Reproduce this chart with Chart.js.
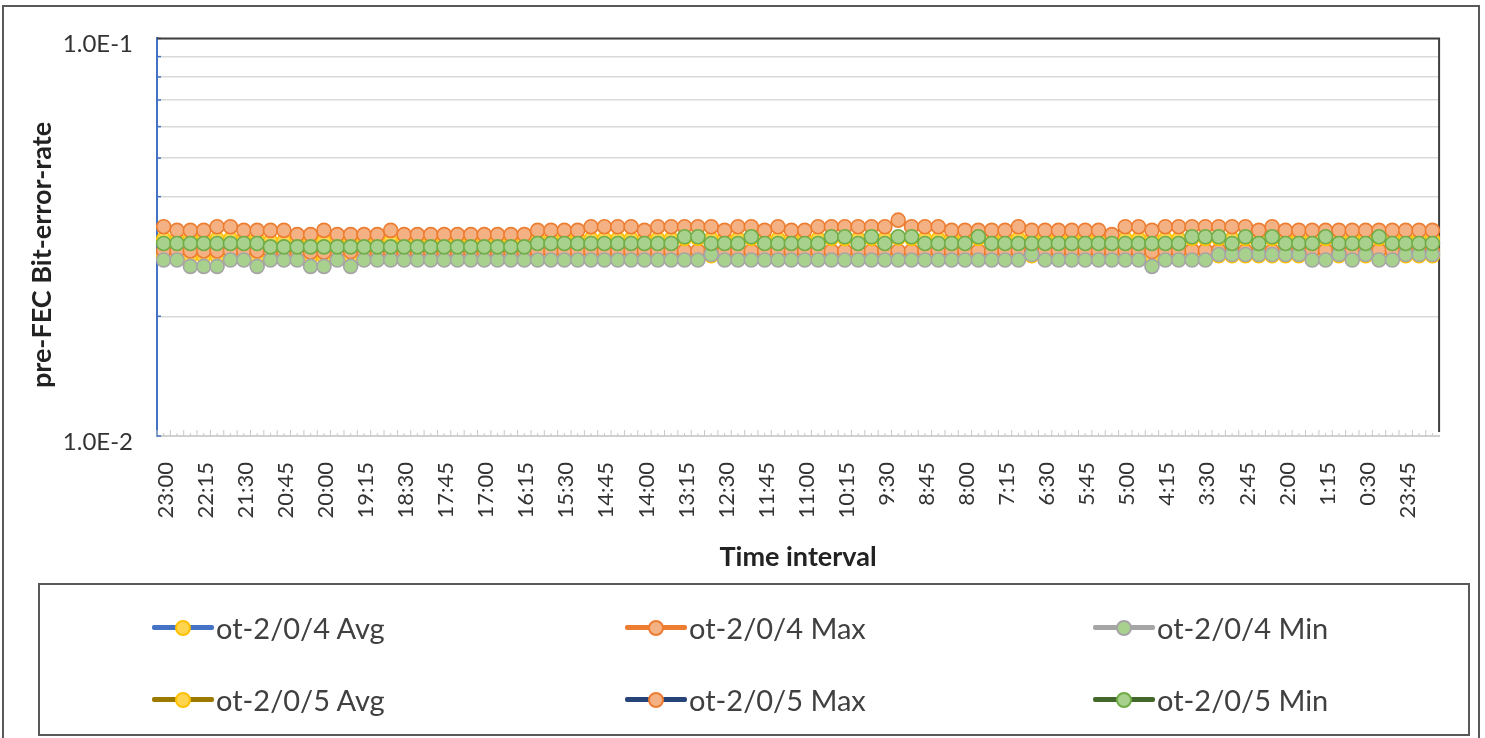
<!DOCTYPE html>
<html>
<head>
<meta charset="utf-8">
<script src="https://cdn.jsdelivr.net/npm/chart.js@4.4.0/dist/chart.umd.min.js"></script>
<style>
  html, body { margin: 0; padding: 0; background: #fff; }
  #wrap { position: relative; width: 1485px; height: 738px; overflow: hidden; font-family: Lato, "Liberation Sans", sans-serif; }
  #frame { position: absolute; left: 2px; top: 5px; width: 1478px; height: 780px; border: 2px solid #595959; box-sizing: border-box; }
  #chart { position: absolute; left: 0; top: 0; }
  #legend { position: absolute; left: 38px; top: 583px; width: 1432px; height: 153px; border: 2px solid #595959; box-sizing: border-box; }
  .item { position: absolute; height: 30px; font-size: 29px; line-height: 30px; color: #404040; white-space: nowrap; }
  .ln { position: absolute; left: 0; top: 12px; width: 62px; height: 5px; border-radius: 2px; }
  .mk { position: absolute; left: 23px; top: 7px; width: 16px; height: 16px; border-radius: 50%; border: 2px solid; box-sizing: border-box; }
  .tx { position: absolute; left: 64px; top: 0; }
</style>
</head>
<body>
<div id="wrap">
  <div id="frame"></div>
  <canvas id="chart" width="1485" height="738"></canvas>
  <div id="legend"></div>
</div>
<script>
// 15 minute intervals, newest first
var timeLabels = [
  "23:00","22:45","22:30","22:15","22:00","21:45","21:30","21:15","21:00","20:45","20:30","20:15",
  "20:00","19:45","19:30","19:15","19:00","18:45","18:30","18:15","18:00","17:45","17:30","17:15",
  "17:00","16:45","16:30","16:15","16:00","15:45","15:30","15:15","15:00","14:45","14:30","14:15",
  "14:00","13:45","13:30","13:15","13:00","12:45","12:30","12:15","12:00","11:45","11:30","11:15",
  "11:00","10:45","10:30","10:15","10:00","9:45","9:30","9:15","9:00","8:45","8:30","8:15",
  "8:00","7:45","7:30","7:15","7:00","6:45","6:30","6:15","6:00","5:45","5:30","5:15",
  "5:00","4:45","4:30","4:15","4:00","3:45","3:30","3:15","3:00","2:45","2:30","2:15",
  "2:00","1:45","1:30","1:15","1:00","0:45","0:30","0:15","0:00","23:45","23:30","23:15"
];

// value axis grid: one decade, minor lines at 2..9
var yTickValues = [0.01, 0.02, 0.03, 0.04, 0.05, 0.06, 0.07, 0.08, 0.09, 0.1];

var seriesNames = ["ot-2/0/4 Avg", "ot-2/0/4 Max", "ot-2/0/4 Min", "ot-2/0/5 Avg", "ot-2/0/5 Max", "ot-2/0/5 Min"];

var avg4 = [
  .0283,.0283,.0283,.0283,.0283,.0283,.0283,.0283,.0283,.0283,.0283,.0282,
  .0282,.0283,.0283,.0283,.0283,.0283,.0283,.0283,.0283,.0283,.0283,.0283,
  .0283,.0283,.0283,.0283,.0283,.0283,.0283,.0283,.0283,.0283,.0283,.0283,
  .0283,.0283,.0283,.0283,.0283,.0284,.0283,.0283,.0283,.0283,.0283,.0283,
  .0283,.0283,.0283,.0283,.0283,.0283,.0283,.0283,.0283,.0283,.0283,.0283,
  .0283,.0283,.0283,.0283,.0283,.0284,.0283,.0283,.0283,.0283,.0283,.0283,
  .0283,.0283,.0283,.0283,.0283,.0283,.0283,.0284,.0284,.0284,.0284,.0284,
  .0284,.0284,.0283,.0283,.0284,.0283,.0284,.0283,.0283,.0284,.0284,.0284
];
var max4 = [
  .0292,.0292,.0292,.0292,.0292,.0292,.0292,.0292,.0291,.0291,.0291,.0290,
  .0290,.0291,.0291,.0291,.0291,.0291,.0291,.0291,.0291,.0291,.0291,.0291,
  .0291,.0291,.0291,.0291,.0292,.0292,.0292,.0292,.0292,.0292,.0292,.0292,
  .0292,.0292,.0292,.0292,.0292,.0292,.0292,.0292,.0292,.0292,.0292,.0292,
  .0292,.0292,.0292,.0292,.0292,.0292,.0292,.0292,.0292,.0292,.0292,.0292,
  .0292,.0292,.0292,.0292,.0292,.0292,.0292,.0292,.0292,.0292,.0292,.0292,
  .0292,.0292,.0291,.0292,.0292,.0293,.0293,.0293,.0292,.0292,.0292,.0292,
  .0292,.0292,.0293,.0293,.0292,.0292,.0292,.0293,.0293,.0292,.0292,.0292
];
var min4 = [
  .0277,.0277,.0267,.0267,.0267,.0277,.0277,.0267,.0277,.0277,.0277,.0267,
  .0267,.0277,.0267,.0277,.0277,.0277,.0277,.0277,.0277,.0277,.0277,.0277,
  .0277,.0277,.0277,.0277,.0277,.0277,.0277,.0277,.0277,.0277,.0277,.0277,
  .0277,.0277,.0277,.0277,.0277,.0286,.0277,.0277,.0277,.0277,.0277,.0277,
  .0277,.0277,.0277,.0277,.0277,.0277,.0277,.0277,.0277,.0277,.0277,.0277,
  .0277,.0277,.0277,.0277,.0277,.0286,.0277,.0277,.0277,.0277,.0277,.0277,
  .0277,.0277,.0267,.0277,.0277,.0277,.0277,.0286,.0286,.0286,.0286,.0286,
  .0286,.0286,.0277,.0277,.0286,.0277,.0286,.0277,.0277,.0286,.0286,.0286
];
var avg5 = [
  .0313,.0313,.0313,.0313,.0313,.0313,.0313,.0313,.0309,.0309,.0309,.0309,
  .0309,.0309,.0309,.0309,.0309,.0309,.0309,.0309,.0309,.0309,.0309,.0309,
  .0309,.0309,.0309,.0309,.0313,.0313,.0313,.0313,.0313,.0313,.0313,.0313,
  .0313,.0313,.0313,.0314,.0314,.0313,.0313,.0313,.0314,.0313,.0313,.0313,
  .0313,.0313,.0314,.0314,.0313,.0314,.0313,.0315,.0314,.0313,.0313,.0313,
  .0313,.0314,.0313,.0313,.0313,.0313,.0313,.0313,.0313,.0313,.0313,.0312,
  .0313,.0313,.0313,.0313,.0313,.0314,.0314,.0314,.0313,.0314,.0313,.0314,
  .0313,.0313,.0313,.0314,.0313,.0313,.0313,.0314,.0313,.0313,.0313,.0313
];
var max5 = [
  .0336,.0329,.0329,.0329,.0336,.0336,.0329,.0329,.0329,.0329,.0321,.0321,
  .0329,.0321,.0321,.0321,.0321,.0329,.0321,.0321,.0321,.0321,.0321,.0321,
  .0321,.0321,.0321,.0321,.0329,.0329,.0329,.0329,.0336,.0336,.0336,.0336,
  .0329,.0336,.0336,.0336,.0336,.0336,.0329,.0336,.0336,.0329,.0336,.0329,
  .0329,.0336,.0336,.0336,.0336,.0336,.0336,.0349,.0336,.0336,.0336,.0329,
  .0329,.0329,.0329,.0329,.0336,.0329,.0329,.0329,.0329,.0329,.0329,.0321,
  .0336,.0336,.0329,.0336,.0336,.0336,.0336,.0336,.0336,.0336,.0329,.0336,
  .0329,.0329,.0329,.0329,.0329,.0329,.0329,.0329,.0329,.0329,.0329,.0329
];
var min5 = [
  .0305,.0305,.0305,.0305,.0305,.0305,.0305,.0305,.0299,.0299,.0299,.0299,
  .0299,.0299,.0299,.0299,.0299,.0299,.0299,.0299,.0299,.0299,.0299,.0299,
  .0299,.0299,.0299,.0299,.0305,.0305,.0305,.0305,.0305,.0305,.0305,.0305,
  .0305,.0305,.0305,.0317,.0317,.0305,.0305,.0305,.0317,.0305,.0305,.0305,
  .0305,.0305,.0317,.0317,.0305,.0317,.0305,.0317,.0317,.0305,.0305,.0305,
  .0305,.0317,.0305,.0305,.0305,.0305,.0305,.0305,.0305,.0305,.0305,.0305,
  .0305,.0305,.0305,.0305,.0305,.0317,.0317,.0317,.0305,.0317,.0305,.0317,
  .0305,.0305,.0305,.0317,.0305,.0305,.0305,.0317,.0305,.0305,.0305,.0305
];

// looks per series: line colour, marker fill, marker edge
var looks = [
  { line: '#4472C4', fill: '#FFD54F', edge: '#FFC000' },
  { line: '#ED7D31', fill: '#F4B183', edge: '#ED7D31' },
  { line: '#A5A5A5', fill: '#A9D18E', edge: '#A5A5A5' },
  { line: '#9C7A00', fill: '#FFD54F', edge: '#FFC000' },
  { line: '#264478', fill: '#F4B183', edge: '#ED7D31' },
  { line: '#43682B', fill: '#A9D18E', edge: '#70AD47' }
];

var seriesValues = [avg4, max4, min4, avg5, max5, min5];

// later series are painted on top, like the spreadsheet
var datasets = seriesValues.map(function(vals, k) {
    return {
        label: seriesNames[k],
        data: vals,
        order: seriesValues.length - 1 - k,
        borderColor: looks[k].line,
        borderWidth: 2.5,
        pointRadius: 7,
        pointBorderWidth: 1.6,
        pointBackgroundColor: looks[k].fill,
        pointBorderColor: looks[k].edge,
        tension: 0
    };
});

var framePlugin = {
    id: 'frame',
    beforeDatasetsDraw: function(chart) {
        var ctx = chart.ctx, a = chart.chartArea, x = chart.scales.x, y = chart.scales.y;
        ctx.save();
        // little category ticks along the bottom
        ctx.strokeStyle = '#c8c8c8';
        ctx.lineWidth = 1;
        var half = (x.getPixelForValue(1) - x.getPixelForValue(0)) / 2;
        for (var i = 0; i < timeLabels.length; i++) {
            var px = x.getPixelForValue(i);
            ctx.beginPath();
            ctx.moveTo(px - half, a.bottom); ctx.lineTo(px - half, a.bottom - 6);
            ctx.moveTo(px, a.bottom); ctx.lineTo(px, a.bottom - 3);
            ctx.stroke();
        }
        // blue stubs on the value axis
        ctx.strokeStyle = '#4472C4';
        ctx.lineWidth = 1.5;
        y.ticks.forEach(function(t) {
            var py = y.getPixelForValue(t.value);
            ctx.beginPath(); ctx.moveTo(a.left, py); ctx.lineTo(a.left + 4, py); ctx.stroke();
        });
        // dark top and right edges of the plot
        ctx.strokeStyle = '#404040';
        ctx.lineWidth = 2;
        ctx.beginPath();
        ctx.moveTo(a.left, a.top); ctx.lineTo(a.right, a.top); ctx.lineTo(a.right, a.bottom - 4);
        ctx.stroke();
        ctx.restore();
    },
    afterDraw: function(chart) {
        var ctx = chart.ctx;
        ctx.save();
        ctx.translate(42, 255);
        ctx.rotate(-Math.PI / 2);
        ctx.font = 'bold 27px Lato';
        ctx.fillStyle = '#222';
        ctx.textAlign = 'center';
        ctx.textBaseline = 'middle';
        ctx.fillText('pre-FEC Bit-error-rate', 0, 0);
        ctx.restore();
    }
};

var ctx = document.getElementById('chart').getContext('2d');
var chart = new Chart(ctx, {
    type: 'line',
    data: { labels: timeLabels, datasets: datasets },
    plugins: [framePlugin],
    options: {
        responsive: false,
        animation: false,
        layout: { padding: { top: 35, right: 36, bottom: 160, left: 0 } },
        plugins: { legend: { display: false }, tooltip: { enabled: false } },
        scales: {
            x: {
                type: 'category',
                offset: true,
                afterFit: function(s) { s.height = 142; },
                grid: { drawOnChartArea: false, drawTicks: false },
                border: { display: true, color: '#d0d0d0', width: 2 },
                ticks: {
                    autoSkip: false, minRotation: 90, maxRotation: 90,
                    padding: 26, labelOffset: 2, color: '#333',
                    font: { family: 'Lato', size: 22 },
                    callback: function(v, i) { return i % 3 === 0 ? this.getLabelForValue(v) : ''; }
                },
                title: {
                    display: true, text: 'Time interval', color: '#222',
                    font: { family: 'Lato', size: 27, weight: 'bold' },
                    padding: { top: 0, bottom: 5 }
                }
            },
            y: {
                type: 'logarithmic',
                min: 0.01, max: 0.1,
                afterFit: function(s) { s.width = 157; },
                afterBuildTicks: function(s) {
                    s.ticks = yTickValues.map(function(v) { return { value: v }; });
                },
                grid: { color: '#d9d9d9', lineWidth: 1.5, drawTicks: false },
                border: { color: '#4472C4', width: 2 },
                ticks: {
                    autoSkip: false, padding: 24, labelOffset: 6, color: '#333',
                    font: { family: 'Lato', size: 24 },
                    callback: function(v) {
                        var e = Math.log10(v);
                        return Math.abs(e - Math.round(e)) < 1e-6 ? '1.0E' + Math.round(e) : '';
                    }
                }
            }
        }
    }
});

// legend box, three columns by two rows
var legendBox = document.getElementById('legend');
var colLeft = [112, 585, 1053], rowTop = [28, 100];
seriesNames.forEach(function(name, k) {
    var item = document.createElement('div');
    item.className = 'item';
    item.style.left = colLeft[k % 3] + 'px';
    item.style.top = rowTop[Math.floor(k / 3)] + 'px';
    item.innerHTML = '<div class="ln" style="background:' + looks[k].line + '"></div>' +
        '<div class="mk" style="background:' + looks[k].fill + ';border-color:' + looks[k].edge + '"></div>' +
        '<div class="tx">' + name + '</div>';
    legendBox.appendChild(item);
});
</script>
</body>
</html>
